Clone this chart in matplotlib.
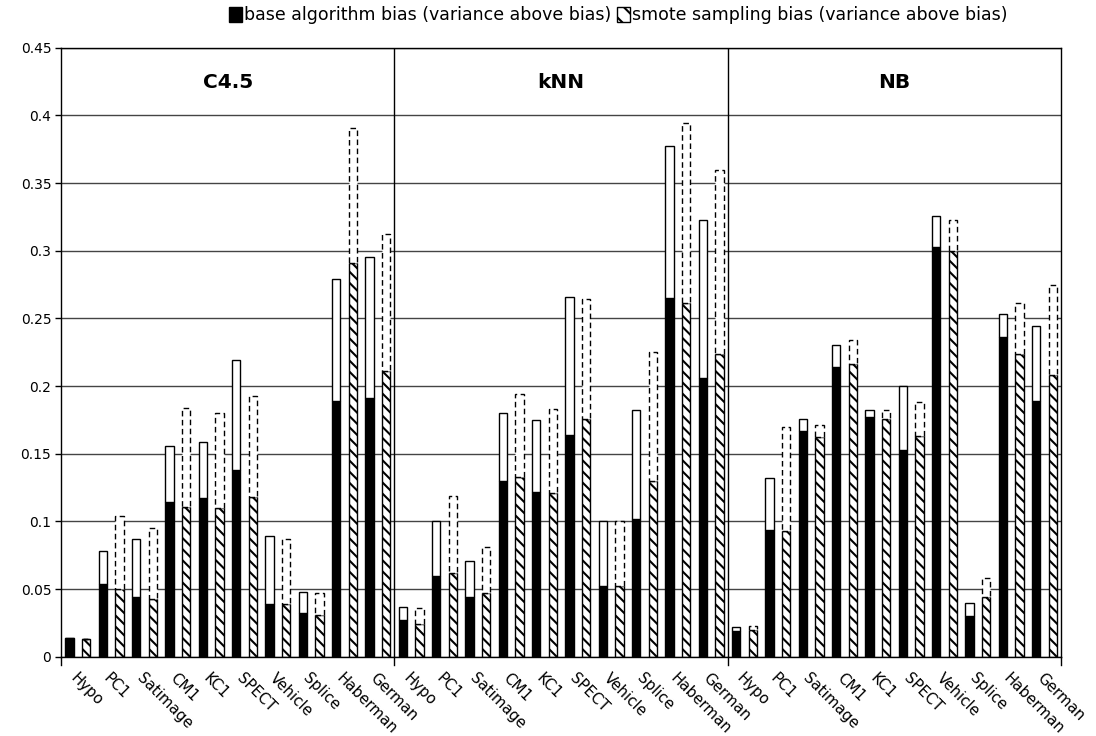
import numpy as np
import matplotlib.pyplot as plt
from matplotlib.patches import Patch
from matplotlib.ticker import FixedLocator

plt.rcParams['font.family'] = ['DejaVu Sans']
plt.rcParams['hatch.linewidth'] = 1.5

datasets = ["Hypo", "PC1", "Satimage", "CM1", "KC1", "SPECT", "Vehicle", "Splice", "Haberman", "German"]
classifiers = ["C4.5", "kNN", "NB"]

# bias and variance for the plain learners (C4.5, kNN, NB, in dataset order)
base_bias_c45 = [0.014, 0.054, 0.044, 0.114, 0.117, 0.138, 0.039, 0.032, 0.189, 0.191]
base_var_c45 = [0.000, 0.024, 0.043, 0.042, 0.042, 0.081, 0.050, 0.016, 0.090, 0.104]
base_bias_knn = [0.027, 0.060, 0.044, 0.130, 0.122, 0.164, 0.052, 0.102, 0.265, 0.206]
base_var_knn = [0.010, 0.040, 0.027, 0.050, 0.053, 0.102, 0.048, 0.080, 0.112, 0.117]
base_bias_nb = [0.019, 0.094, 0.167, 0.214, 0.177, 0.153, 0.303, 0.030, 0.236, 0.189]
base_var_nb = [0.003, 0.038, 0.009, 0.016, 0.005, 0.047, 0.023, 0.010, 0.017, 0.055]

# bias and variance after SMOTE sampling
smote_bias_c45 = [0.013, 0.050, 0.043, 0.111, 0.110, 0.118, 0.039, 0.031, 0.291, 0.211]
smote_var_c45 = [0.000, 0.054, 0.052, 0.073, 0.070, 0.075, 0.048, 0.016, 0.100, 0.101]
smote_bias_knn = [0.024, 0.062, 0.047, 0.133, 0.121, 0.176, 0.052, 0.130, 0.261, 0.224]
smote_var_knn = [0.012, 0.057, 0.034, 0.061, 0.062, 0.088, 0.048, 0.095, 0.133, 0.136]
smote_bias_nb = [0.020, 0.093, 0.162, 0.216, 0.176, 0.163, 0.300, 0.044, 0.224, 0.208]
smote_var_nb = [0.003, 0.077, 0.009, 0.018, 0.006, 0.025, 0.023, 0.014, 0.037, 0.067]

y_ticks = [0, 0.05, 0.1, 0.15, 0.2, 0.25, 0.3, 0.35, 0.4, 0.45]

base_bias = np.array(base_bias_c45 + base_bias_knn + base_bias_nb)
base_var = np.array(base_var_c45 + base_var_knn + base_var_nb)
smote_bias = np.array(smote_bias_c45 + smote_bias_knn + smote_bias_nb)
smote_var = np.array(smote_var_c45 + smote_var_knn + smote_var_nb)

n = len(base_bias)
x = np.arange(n) + 0.5
w = 0.25
hatch = '\\\\\\'

fig = plt.figure(figsize=(10.96, 7.36), dpi=100)
ax = fig.add_axes([0.0557, 0.1077, 0.9124, 0.8275])
ax.set_axisbelow(True)

# base learner: solid black bias, open box for the variance on top
ax.bar(x - w, base_bias, w, color='black', edgecolor='black', linewidth=1)
ax.bar(x - w, base_var, w, bottom=base_bias, facecolor='white', edgecolor='black', linewidth=1)

# smote: hatched bias, dashed box for the variance
ax.bar(x + w, smote_bias, w, facecolor='white', edgecolor='black', hatch=hatch, linewidth=1)
ax.bar(x + w, smote_var, w, bottom=smote_bias, facecolor='white', edgecolor='black',
       linewidth=1, linestyle=(0, (4, 2.5)))

ax.set_xlim(0, n)
ax.set_ylim(0, 0.45)
ax.yaxis.set_major_locator(FixedLocator(y_ticks))
ax.set_yticklabels(['{:g}'.format(t) for t in y_ticks], fontsize=10)
ax.yaxis.grid(True, color='#444444', linewidth=1)
ax.tick_params(axis='y', length=4, width=1, pad=3)

ax.set_xticks(x)
ax.set_xticklabels(datasets * len(classifiers), rotation=-45, ha='left', va='top',
                   rotation_mode='anchor', fontsize=10.8)
ax.tick_params(axis='x', length=0, pad=10)

# classifier blocks: separators, tick marks on the boundaries and headings
k = len(datasets)
for i, name in enumerate(classifiers):
    if i > 0:
        ax.axvline(i * k, color='black', linewidth=1)
    ax.text(i * k + k / 2, 0.424, name, ha='center', va='center',
            fontsize=14.5, fontweight='bold')
for b in range(len(classifiers) + 1):
    ax.plot([b * k, b * k], [0, -0.006], color='black', linewidth=1, clip_on=False)

for s in ax.spines.values():
    s.set_color('black')
    s.set_linewidth(1)

handles = [Patch(facecolor='black', edgecolor='black'),
           Patch(facecolor='white', edgecolor='black', hatch='\\\\')]
labels = ['base algorithm bias (variance above bias)',
          'smote sampling bias (variance above bias)']
fig.legend(handles, labels, loc='center', bbox_to_anchor=(0.564, 0.979), ncol=2,
           frameon=False, fontsize=12.5, handlelength=0.75, handleheight=1.0,
           handletextpad=0.15, columnspacing=0.3)

fig.savefig('out.png', dpi=100)
